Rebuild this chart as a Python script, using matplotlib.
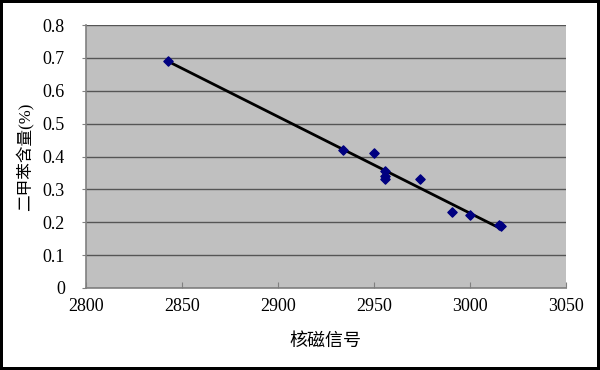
import numpy as np
import matplotlib
matplotlib.use('Agg')
from matplotlib import pyplot as plt

plt.rcParams['font.family'] = ['Liberation Serif', 'Noto Sans CJK SC', 'DejaVu Sans']

signal = [2843, 2934, 2950, 2956, 2956, 2956, 2974, 2990.5, 3000, 3015, 3016]
xylene = [0.69, 0.42, 0.41, 0.355, 0.34, 0.33, 0.332, 0.23, 0.222, 0.192, 0.187]
x_ticks = [2800, 2850, 2900, 2950, 3000, 3050]
y_ticks = [0, 0.1, 0.2, 0.3, 0.4, 0.5, 0.6, 0.7, 0.8]

fig = plt.figure(figsize=(6, 3.7), dpi=100, facecolor='white',
                 edgecolor='black', linewidth=4)
ax = fig.add_axes([0.143, 0.222, 0.8, 0.71])
ax.set_facecolor('#c0c0c0')

# linear trend line over the data range
k, b = np.polyfit(signal, xylene, 1)
xs = np.array([min(signal), max(signal)])
ax.plot(xs, k * xs + b, color='black', lw=2, zorder=3)

ax.scatter(signal, xylene, marker='D', s=22, color='#000080', zorder=4)

ax.set_xlim(2800, 3050)
ax.set_ylim(0, 0.8)
ax.set_xticks(x_ticks)
ax.set_yticks(y_ticks)
ax.set_yticklabels(['0' if v == 0 else '%.1f' % v for v in y_ticks])
ax.grid(axis='y', color='#555555', lw=1)
ax.set_axisbelow(True)

for s in ['top', 'right']:
    ax.spines[s].set_visible(False)
for s in ['left', 'bottom']:
    ax.spines[s].set_color('#808080')
    ax.spines[s].set_linewidth(1.2)
ax.tick_params(axis='x', direction='in', length=4, color='#808080',
               labelsize=13, pad=7)
ax.tick_params(axis='y', direction='out', length=3, color='#808080',
               labelsize=13, pad=12)

ax.set_xlabel('核磁信号', fontsize=13, labelpad=13)
ax.set_ylabel('二甲苯含量(%)', fontsize=12, labelpad=6)

fig.savefig('out.png', dpi=100)
